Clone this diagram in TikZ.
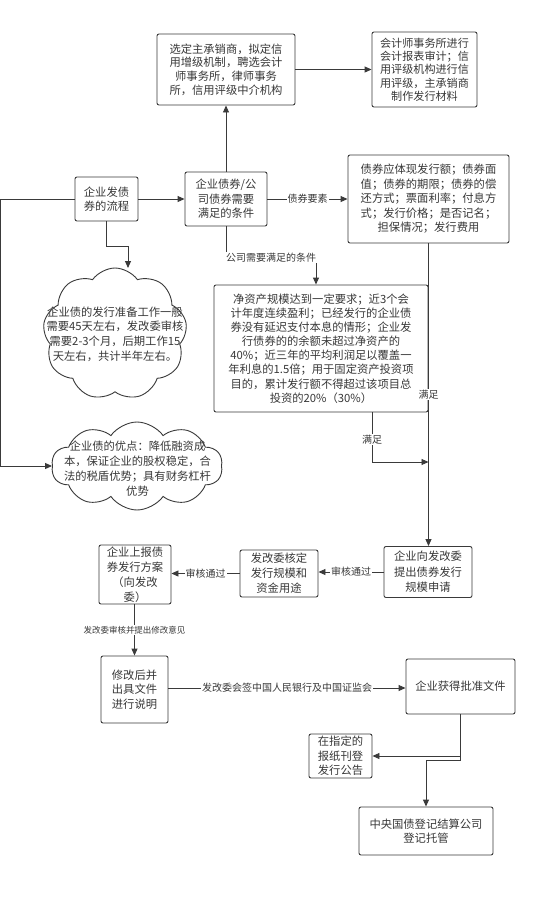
\documentclass[tikz,border=0pt]{standalone}
\usepackage{fontspec}
\setmainfont{Noto Sans CJK SC}
\usetikzlibrary{arrows.meta,shapes.symbols,calc}
\definecolor{lc}{HTML}{3A3A3A}
\definecolor{tc}{HTML}{383838}
\tikzset{
  box/.style={draw=lc, line width=0.9pt, rounded corners=2pt, fill=white, align=center,
    inner sep=0pt, text=tc, font=\fontsize{11.3}{14.5}\selectfont},
  cloudbox/.style={cloud, draw=lc, line width=0.9pt, cloud puffs=9, cloud puff arc=110,
    cloud ignores aspect, inner sep=0pt, fill=white},
  txt/.style={align=center, text=tc, inner sep=0pt, font=\fontsize{11.3}{14.8}\selectfont},
  lab/.style={fill=white, inner sep=1pt, text=tc, font=\fontsize{10}{12}\selectfont},
  slab/.style={fill=white, inner sep=1pt, text=tc, font=\fontsize{8.5}{10}\selectfont},
  arr/.style={draw=lc, line width=0.9pt, -{Triangle[length=7pt,width=6pt]}},
}
\begin{document}
\begin{tikzpicture}[x=1pt,y=-1pt]
\useasboundingbox[fill=white] (0,0) rectangle (557,898);

\node[box, minimum width=138pt, minimum height=71pt, font=\fontsize{11.3}{13.7}\selectfont] (A) at (226,69.5)
  {选定主承销商，拟定信\\用增级机制，聘选会计\\师事务所，律师事务\\所，信用评级中介机构};
\node[box, minimum width=105pt, minimum height=75pt, font=\fontsize{11.1}{13.3}\selectfont] (B) at (424.5,69.5)
  {会计师事务所进行\\会计报表审计；信\\用评级机构进行信\\用评级，主承销商\\制作发行材料};
\node[box, minimum width=63pt, minimum height=44pt] (S) at (106.5,199)
  {企业发债\\券的流程};
\node[box, minimum width=82pt, minimum height=54pt] (C) at (226,199)
  {企业债券/公\\司债券需要\\满足的条件};
\node[box, minimum width=161pt, minimum height=88pt] (D) at (428.5,199)
  {债券应体现发行额；债券面\\值；债券的期限；债券的偿\\还方式；票面利率；付息方\\式；发行价格；是否记名；\\担保情况；发行费用};
\node[box, minimum width=214pt, minimum height=127pt, font=\fontsize{11.3}{14.1}\selectfont] (E) at (321,348.5)
  {净资产规模达到一定要求；近3个会\\计年度连续盈利；已经发行的企业债\\券没有延迟支付本息的情形；企业发\\行债券的的余额未超过净资产的\\40\%；近三年的平均利润足以覆盖一\\年利息的1.5倍；用于固定资产投资项\\目的，累计发行额不得超过该项目总\\投资的20\%（30\%）};

\node[cloudbox, minimum width=144pt, minimum height=132pt] (c1) at (115,334) {};
\node[txt] (c1t) at (c1.center) {企业债的发行准备工作一般\\需要45天左右，发改委审核\\需要2-3个月，后期工作15\\天左右，共计半年左右。};
\node[cloudbox, cloud puffs=10, minimum width=171pt, minimum height=88pt] (c2) at (137,466) {};
\node[txt] (c2t) at (137.5,468.5) {企业债的优点：降低融资成\\本，保证企业的股权稳定，合\\法的税盾优势；具有财务杠杆\\优势};

\node[box, minimum width=88pt, minimum height=51pt, font=\fontsize{11.3}{15.5}\selectfont] (F) at (428,572)
  {企业向发改委\\提出债券发行\\规模申请};
\node[box, minimum width=78pt, minimum height=47pt, font=\fontsize{11.3}{15}\selectfont] (G) at (279,573.5)
  {发改委核定\\发行规模和\\资金用途};
\node[box, minimum width=72pt, minimum height=59pt, font=\fontsize{11.3}{15}\selectfont] (H) at (135,574.5)
  {企业上报债\\券发行方案\\（向发改\\委）};
\node[box, minimum width=67pt, minimum height=67pt] (I) at (134.5,689.5)
  {修改后并\\出具文件\\进行说明};
\node[box, minimum width=109pt, minimum height=55pt] (J) at (460.5,686.5)
  {企业获得批准文件};
\node[box, minimum width=63pt, minimum height=44pt] (K) at (340.5,756)
  {在指定的\\报纸刊登\\发行公告};
\node[box, minimum width=134pt, minimum height=48pt] (L) at (426,831)
  {中央国债登记结算公司\\登记托管};

\coordinate (eIn) at ($(E.north)+(-5,0)$);
\coordinate (eOut) at ($(E.south)+(51,0)$);
\coordinate (join) at (428.5,462);
\coordinate (c1in) at (128,268);

\draw[arr] (S.east) -- (C.west);
\draw[arr] (C.north) -- (A.south);
\draw[arr] (A.east) -- (B.west);
\draw[arr] (C.east) -- node[lab]{债券要素} (D.west);
\draw[arr] (C.south) -- ++(0,31) -| node[lab,pos=0.25]{公司需要满足的条件} (eIn);
\draw[arr] (D.south) -- node[lab]{满足} (D.south |- F.north);
\draw[arr] (eOut) |- node[lab,pos=0.27]{满足} (join);
\draw[arr] (S.west) -- ++(-74.5,0) |- (c2.west);
\draw[arr] (S.south) -- ++(0,25) -| (c1in);
\draw[arr] (F.west) -- node[lab]{审核通过} (G.east |- F.west);
\draw[arr] (G.west) -- node[lab]{审核通过} (H.east |- G.west);
\draw[arr] (H.south -| I.north) -- node[slab]{发改委审核并提出修改意见} (I.north);
\draw[arr] (I.east |- 0,688) -- node[lab]{发改委会签中国人民银行及中国证监会} (J.west |- 0,688);
\draw[arr] (J.south) |- (K.east);
\draw[arr] (J.south) -- ++(0,46) -| (L.north);
\end{tikzpicture}
\end{document}
